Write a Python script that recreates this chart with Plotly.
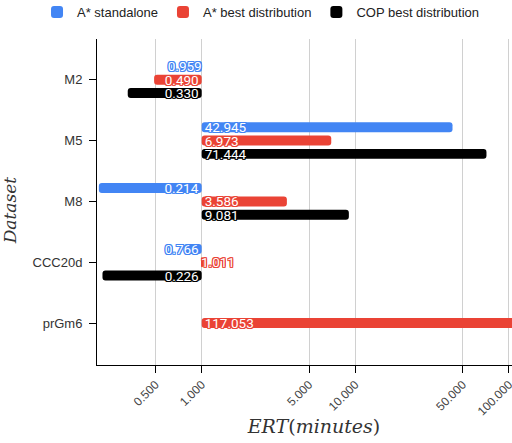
import plotly.graph_objects as go

datasets = ["M2", "M5", "M8", "CCC20d", "prGm6"]
astar_standalone = [0.959, 42.945, 0.214, 0.766, None]
astar_best_dist = [0.490, 6.973, 3.586, 1.011, 117.053]
cop_best_dist = [0.330, 71.444, 9.081, 0.226, None]

series_names = ["A* standalone", "A* best distribution", "COP best distribution"]
series_colors = ["#4285F4", "#EA4335", "#000000"]
tick_values = [0.5, 1, 5, 10, 50, 100]
tick_labels = ["0.500", "1.000", "5.000", "10.000", "50.000", "100.000"]
baseline = 1.0

fig = go.Figure()
for name, color, vals in zip(series_names, series_colors,
                             [astar_standalone, astar_best_dist, cop_best_dist]):
    sizes = [None if v is None else v - baseline for v in vals]
    texts = ["" if v is None else f"{v:.3f}" for v in vals]
    sh = f"-1px -1px 0 {color}, 1px -1px 0 {color}, -1px 1px 0 {color}, 1px 1px 0 {color}, 0 1px 0 {color}, 0 -1px 0 {color}, 1px 0 0 {color}, -1px 0 0 {color}"
    fig.add_trace(go.Bar(
        y=datasets, x=sizes, base=baseline, orientation="h", name=name,
        marker=dict(color=color, cornerradius=3, line=dict(width=0)),
        text=texts, textposition="inside", insidetextanchor="start", textangle=0,
        constraintext="none", cliponaxis=True,
        textfont=dict(color="white", size=13.5, family="Roboto, Arial", shadow=sh),
        hoverinfo="skip",
    ))

yr = [4.69, -0.67]
xr = [-0.6816, 2.1439]
fig.update_layout(
    width=531, height=443,
    margin=dict(l=97, r=0, t=39, b=78, autoexpand=False),
    paper_bgcolor="white", plot_bgcolor="white",
    barmode="group", bargap=0.344, bargroupgap=0.25,
    font=dict(family="Arial, Liberation Sans", color="#444", size=12),
    showlegend=True,
    legend=dict(orientation="h", x=-0.1382, xanchor="left", y=1.083, yanchor="middle",
                font=dict(size=13, color="#222"), traceorder="normal",
                itemclick=False, tracegroupgap=0),
    xaxis=dict(type="log", range=xr, tickvals=tick_values, ticktext=tick_labels,
               tickangle=-45, ticks="outside", ticklen=7, tickcolor="#000",
               showline=True, linecolor="#000", linewidth=1, automargin=False,
               showgrid=True, gridcolor="#d0d0d0", gridwidth=1,
               tickfont=dict(size=12, color="#444"), zeroline=False,
               title=dict(text="<i>ERT</i>(<i>minutes</i>)",
                          font=dict(family="DejaVu Serif, Liberation Serif, serif", size=19, color="#333"),
                          standoff=2)),
    yaxis=dict(type="category", range=yr, ticks="outside", ticklen=7, tickcolor="#000",
               showline=True, linecolor="#000", linewidth=1, showgrid=False,
               tickfont=dict(size=13, color="#333"), automargin=False, ticklabelstandoff=4,
               title=dict(text="<i>Dataset</i>&nbsp;&nbsp;&nbsp;",
                          font=dict(family="DejaVu Serif, Liberation Serif, serif", size=17, color="#333"),
                          standoff=12)),
    xaxis2=dict(type="log", range=xr, overlaying="x", side="bottom", anchor="y",
                tickvals=tick_values, ticks="inside", ticklen=7, tickcolor="#000",
                showticklabels=False, showgrid=False, showline=False, zeroline=False),
    yaxis2=dict(type="linear", range=yr, overlaying="y", side="left", anchor="x",
                tickvals=[0, 1, 2, 3, 4], ticks="inside", ticklen=7, tickcolor="#000",
                showticklabels=False, showgrid=False, showline=False, zeroline=False),
)
fig.write_html("out.html", config={"displayModeBar": False},
               post_script="document.body.style.margin='0';document.body.style.overflow='hidden';")
